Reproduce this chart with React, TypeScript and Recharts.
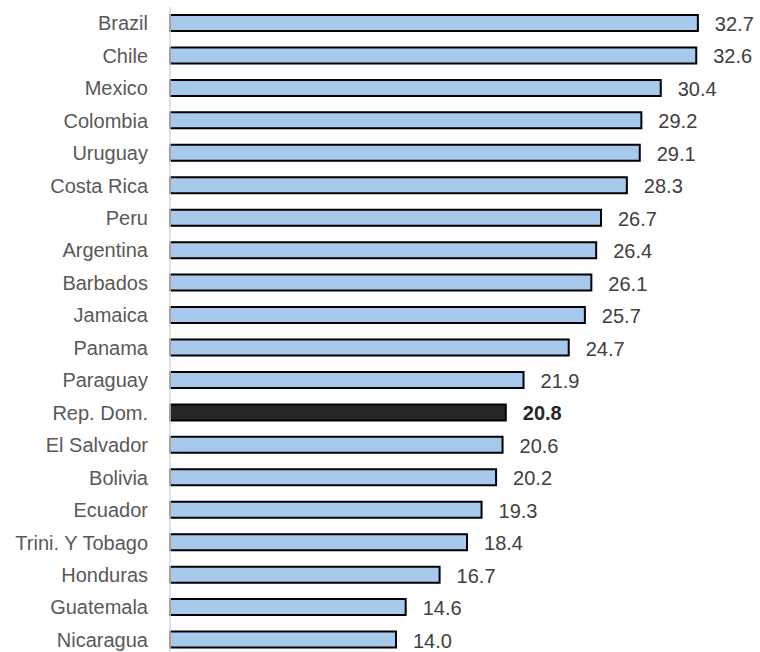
import React from "react";
import { BarChart, Bar, XAxis, YAxis, Cell, LabelList } from "recharts";

const categories = [
  "Brazil", "Chile", "Mexico", "Colombia", "Uruguay", "Costa Rica", "Peru",
  "Argentina", "Barbados", "Jamaica", "Panama", "Paraguay", "Rep. Dom.",
  "El Salvador", "Bolivia", "Ecuador", "Trini. Y Tobago", "Honduras",
  "Guatemala", "Nicaragua",
];
const values = [
  32.7, 32.6, 30.4, 29.2, 29.1, 28.3, 26.7, 26.4, 26.1, 25.7, 24.7, 21.9,
  20.8, 20.6, 20.2, 19.3, 18.4, 16.7, 14.6, 14.0,
];
const highlight = "Rep. Dom.";

const data = categories.map((name, i) => ({ name, value: values[i] }));

const FONT = "'Liberation Sans', Arial, sans-serif";

const ValueLabel = (props: any) => {
  const { x, y, width, height, value, index } = props;
  const hi = categories[index] === highlight;
  return (
    <text
      x={Number(x) + Number(width) + 17}
      y={Number(y) + Number(height) / 2 + 1}
      dominantBaseline="central"
      textAnchor="start"
      fontFamily={FONT}
      fontSize={20}
      fontWeight={hi ? 700 : 400}
      fill={hi ? "#262626" : "#404040"}
    >
      {Number(value).toFixed(1)}
    </text>
  );
};

export default function App() {
  return (
    <div
      style={{
        position: "fixed",
        top: 0,
        left: 0,
        width: 760,
        height: 652,
        overflow: "hidden",
        background: "#ffffff",
      }}
    >
      <BarChart
        width={760}
        height={656}
        data={data}
        layout="vertical"
        margin={{ top: 7, right: 25, bottom: 0, left: 0 }}
        barCategoryGap="50%"
      >
        <XAxis type="number" domain={[0, 35]} hide />
        <YAxis
          type="category"
          dataKey="name"
          width={170}
          tickLine={false}
          tickMargin={16}
          axisLine={{ stroke: "#d9d9d9", strokeWidth: 1.5 }}
          interval={0}
          tick={{ fontFamily: FONT, fontSize: 20, fill: "#595959" }}
        />
        <Bar
          dataKey="value"
          barSize={16}
          stroke="#000000"
          strokeWidth={2}
          isAnimationActive={false}
        >
          {data.map((d) => (
            <Cell
              key={d.name}
              fill={d.name === highlight ? "#262626" : "#a6c9ec"}
            />
          ))}
          <LabelList dataKey="value" content={ValueLabel} />
        </Bar>
      </BarChart>
    </div>
  );
}
